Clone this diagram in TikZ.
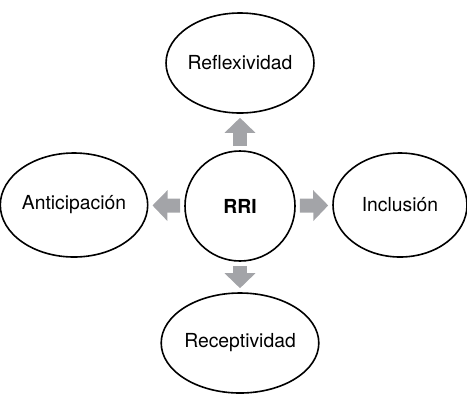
\documentclass[tikz,border=0pt]{standalone}
\usepackage{fontspec}
\setmainfont{TeX Gyre Heros}
\usepackage{tikz}
\usetikzlibrary{shapes.geometric,arrows.meta}
\definecolor{arrowgray}{RGB}{163,164,168}
\tikzset{every picture/.style={line width=0.75pt}}
\tikzset{
bubble/.style={draw, line width=1.2pt, ellipse, inner sep=0pt, font=\fontsize{14.5}{16}\selectfont},
hub/.style={draw, line width=1.2pt, circle, inner sep=0pt, minimum size=82.5pt, font=\bfseries\fontsize{14.5}{16}\selectfont},
fatarrow/.style={draw=arrowgray, line width=10.5pt, -{Triangle[width=22.5pt,length=11.25pt]}, shorten <=3pt, shorten >=3pt}}

\begin{document}
\begin{tikzpicture}[x=0.75pt,y=0.75pt,yscale=-1,xscale=1]
\useasboundingbox (0,0) rectangle (467,394); %set diagram left start at 0, and has height of 394

%Shape: Circle [id:rri] 
\node[hub] (rri) at (240,206) {RRI};
%Shape: Ellipse [id:refl] 
\node[bubble, minimum width=102pt, minimum height=75pt] (refl) at (240,63) {Reflexividad};
%Shape: Ellipse [id:antic] 
\node[bubble, minimum width=108pt, minimum height=78pt] (antic) at (74,205) {Anticipación};
%Shape: Ellipse [id:incl] 
\node[bubble, minimum width=100.5pt, minimum height=78pt] (incl) at (400,205) {Inclusión};
%Shape: Ellipse [id:recep] 
\node[bubble, minimum width=102pt, minimum height=75pt] (recep) at (240,343) {Receptividad};

%Shape: Right Arrow 
\draw[fatarrow] (rri) -- (refl);
\draw[fatarrow] (rri) -- (antic);
\draw[fatarrow] (rri) -- (incl);
\draw[fatarrow] (rri) -- (recep);

\end{tikzpicture}
\end{document}
